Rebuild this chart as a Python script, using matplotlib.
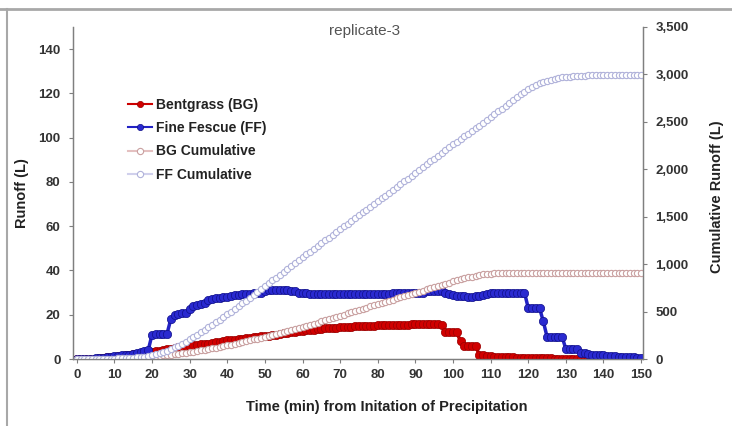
import matplotlib
matplotlib.use('Agg')

import matplotlib.pyplot as plt
from matplotlib.lines import Line2D
from matplotlib.ticker import FuncFormatter

plt.rcParams['font.family'] = ['Liberation Sans', 'DejaVu Sans']

# minute-by-minute runoff, replicate 3
minutes = list(range(0, 151))

# Bentgrass runoff rate (L)
bg_runoff = [
    0, 0, 0, 0, 0, 0.2, 0.4, 0.6, 0.8, 1.0,
    1.1, 1.3, 1.5, 1.7, 1.9, 2.1, 2.3, 2.5, 2.7, 2.9,
    3.2, 3.5, 3.8, 4.0, 4.3, 4.6, 4.9, 5.2, 5.5, 5.8,
    6.0, 6.2, 6.4, 6.6, 6.8, 7.0, 7.3, 7.6, 7.9, 8.2,
    8.4, 8.6, 8.8, 9.0, 9.2, 9.4, 9.6, 9.8, 10.0, 10.2,
    10.4, 10.6, 10.8, 11.0, 11.3, 11.6, 11.8, 12.0, 12.3, 12.5,
    12.7, 12.9, 13.1, 13.3, 13.5, 13.6, 13.8, 14.0, 14.1, 14.2,
    14.3, 14.4, 14.5, 14.6, 14.7, 14.8, 14.9, 15.0, 15.0, 15.1,
    15.2, 15.2, 15.3, 15.3, 15.4, 15.4, 15.5, 15.5, 15.5, 15.6,
    15.6, 15.6, 15.6, 15.7, 15.7, 15.7, 15.6, 15.5, 12, 12,
    12, 12, 8, 6, 6, 6, 6, 1.8, 1.6, 1.4,
    1.2, 1.0, 0.9, 0.8, 0.8, 0.7, 0.7, 0.6, 0.6, 0.5,
    0.5, 0.5, 0.4, 0.4, 0.3, 0.3, 0.3, 0.2, 0.2, 0.2,
    0.2, 0.1, 0.1, 0.1, 0.1, 0.1, 0.1, 0, 0, 0,
    0, 0, 0, 0, 0, 0, 0, 0, 0, 0, 0,
]

# Fine Fescue runoff rate (L)
ff_runoff = [
    0, 0, 0, 0, 0.2, 0.3, 0.5, 0.6, 0.8, 1.0,
    1.2, 1.4, 1.6, 1.8, 2.0, 2.3, 2.6, 3.0, 3.4, 4.0,
    11, 11.5, 11.5, 11.5, 11.5, 18, 20, 20.5, 21, 21,
    22.5, 24, 24.5, 25, 25.5, 26.5, 27, 27.5, 27.5, 28,
    28, 28.5, 29, 29, 29.5, 29.5, 29.5, 30, 30, 30,
    30.5, 31, 31, 31, 31, 31, 31, 30.5, 30.5, 30,
    30, 30, 29.5, 29.5, 29.5, 29.5, 29.5, 29.5, 29.5, 29.5,
    29.5, 29.5, 29.5, 29.5, 29.5, 29.5, 29.5, 29.5, 29.5, 29.5,
    29.5, 29.5, 29.5, 29.5, 30, 30, 30, 30, 30, 30,
    30, 30, 30, 30.5, 30.5, 30.5, 30.5, 30.5, 30, 29.5,
    29, 28.5, 28.5, 28.5, 28, 28, 28.5, 28.5, 29, 29.5,
    30, 30, 30, 30, 30, 30, 30, 30, 30, 30,
    23, 23, 23, 23, 17, 10, 10, 10, 10, 10,
    4.5, 4.5, 4.5, 4.5, 2.5, 2.5, 2.2, 2.0, 2.0, 1.8,
    1.6, 1.5, 1.4, 1.2, 1.1, 1.0, 0.9, 0.8, 0.7, 0.6, 0.5,
]

# cumulative runoff (L)
bg_cumulative = [
    0, 0, 0, 0, 0, 0.2, 0.6, 1.2, 2, 3,
    4, 5.3, 6.8, 8.5, 10.4, 12.5, 14.8, 17.3, 20, 23,
    26, 29.5, 33, 37, 41, 45.5, 50, 55, 60.5, 66,
    72, 78, 84.5, 91, 98, 105, 112, 119.5, 127, 135,
    143, 151.5, 160, 169, 178, 187, 196.5, 206, 215.5, 225,
    234.5, 244, 253.5, 263, 272.5, 282, 293, 304, 315, 326.5,
    338, 349.5, 361, 372.5, 384, 395.5, 407, 419, 431, 443,
    455.5, 468, 480.5, 493, 505.5, 518, 530, 542, 554, 566,
    578, 590, 602, 614, 626, 638, 650, 662, 674, 686,
    698, 710, 722, 734, 746, 758, 770, 782, 794, 806,
    818, 830, 841, 851, 860, 868, 876, 884, 891, 897,
    901, 903, 904, 905, 905.5, 906, 906.5, 907, 907, 907.5,
    907.5, 907.5, 907.5, 907.5, 907.5, 908, 908, 908, 908, 908,
    908, 908, 908, 908, 908, 908, 908, 908, 908, 908,
    908, 908, 908, 908, 908, 908, 908, 908, 908, 908, 908,
]

ff_cumulative = [
    0, 0, 0, 0, 0.2, 0.5, 1, 1.6, 2.4, 3.4,
    4.6, 6, 7.6, 9.4, 11.4, 13.7, 16.3, 19.3, 22.7, 26.7,
    37.7, 49.2, 60.7, 72.2, 83.7, 101.7, 121.7, 142.2, 163.2, 184.2,
    206.7, 230.7, 255.2, 280.2, 305.7, 332.2, 359.2, 386.7, 414.2, 442.2,
    470.2, 498.7, 527.7, 556.7, 586.2, 615.7, 645.2, 675.2, 705.2, 735.2,
    765.7, 796.7, 827.7, 858.7, 889.7, 920.7, 951.7, 982.2, 1012.7, 1042.7,
    1072.7, 1102.7, 1132.2, 1161.7, 1191.2, 1220.7, 1250.2, 1279.7, 1309.2, 1338.7,
    1368.2, 1397.7, 1427.2, 1456.7, 1486.2, 1515.7, 1545.2, 1574.7, 1604.2, 1633.7,
    1663.2, 1692.7, 1722.2, 1751.7, 1781.7, 1811.7, 1841.7, 1871.7, 1901.7, 1931.7,
    1961.7, 1991.7, 2021.7, 2052.2, 2082.7, 2113.2, 2143.7, 2174.2, 2204.2, 2233.7,
    2262.7, 2291.2, 2319.7, 2348.2, 2376.2, 2404.2, 2432.7, 2461.2, 2490.2, 2519.7,
    2549.7, 2579.7, 2609.7, 2639.7, 2669.7, 2699.7, 2729.7, 2759.7, 2789.7, 2819.7,
    2843, 2866, 2889, 2910, 2925, 2935, 2945, 2955, 2963, 2970,
    2974, 2978, 2981, 2984, 2986, 2988, 2989, 2990, 2991, 2992,
    2993, 2993, 2994, 2994, 2995, 2995, 2995, 2996, 2996, 2996, 2996,
]

x_ticks = list(range(0, 151, 10))
left_ticks = list(range(0, 141, 20))
right_ticks = list(range(0, 3501, 500))

W, H = 732, 426
fig = plt.figure(figsize=(W / 100, H / 100), dpi=100)
ax = fig.add_axes([73 / W, 1 - 359 / H, (643 - 73) / W, (359 - 27) / H])
ax2 = ax.twinx()

# rate series: dense filled markers that merge into a thick band
ax.plot(minutes, bg_runoff, color='#cc0000', lw=2.5, marker='o', ms=6,
        mfc='#d00000', mec='#990000', mew=0.5, label='Bentgrass (BG)', zorder=3)
ax.plot(minutes, ff_runoff, color='#2222c4', lw=2.5, marker='o', ms=6,
        mfc='#2a2ad0', mec='#10108a', mew=0.5, label='Fine Fescue (FF)', zorder=3)

# cumulative series: open markers on the right axis
ax2.plot(minutes, bg_cumulative, color='#e4c0c0', lw=1.2, marker='o', ms=4.5,
         mfc='white', mec='#c9a0a0', mew=0.8, label='BG Cumulative')
ax2.plot(minutes, ff_cumulative, color='#d0d0ec', lw=1.2, marker='o', ms=4.5,
         mfc='white', mec='#b0b2da', mew=0.8, label='FF Cumulative')

ax.set_xlim(-1, 150.5)
ax.set_ylim(0, 150)
ax2.set_ylim(0, 3500)
ax.set_xticks(x_ticks)
ax.set_yticks(left_ticks)
ax2.set_yticks(right_ticks)
ax2.yaxis.set_major_formatter(FuncFormatter(lambda v, p: f"{int(v):,}"))

for a in (ax, ax2):
    a.set_facecolor('none')
    a.spines['top'].set_visible(False)
    for s in ('left', 'right', 'bottom'):
        a.spines[s].set_color('#7f7f7f')
        a.spines[s].set_linewidth(0.9)
    a.tick_params(colors='#7f7f7f', labelcolor='#333333', length=3, width=0.8,
                  labelsize=9.5, direction='out')
    for lbl in a.get_xticklabels() + a.get_yticklabels():
        lbl.set_fontweight('bold')
ax.tick_params(axis='x', pad=4)
ax.tick_params(axis='y', pad=6)
ax2.tick_params(axis='y', pad=6)

ax.set_xlabel('Time (min) from Initation of Precipitation', fontsize=10.5,
              fontweight='bold', color='#222222')
ax.xaxis.set_label_coords((387 - 73) / 570, -0.125)
ax.set_ylabel('Runoff (L)', fontsize=10.5, fontweight='bold', color='#222222')
ax.yaxis.set_label_coords(-0.078, 0.5)
ax2.set_ylabel('Cumulative Runoff (L)', fontsize=10.5, fontweight='bold', color='#222222')
ax2.yaxis.set_label_coords(1.118, 0.49)

fig.text(365 / W, 1 - 31 / H, 'replicate-3', ha='center', va='center',
         fontsize=11, color='#555555')

h1, l1 = ax.get_legend_handles_labels()
h2, l2 = ax2.get_legend_handles_labels()
leg = ax2.legend(h1 + h2, l1 + l2, loc='upper left', bbox_to_anchor=(0.075, 0.825),
                 frameon=False, handlelength=1.7, handletextpad=0.3,
                 labelspacing=0.68, prop={'size': 10, 'weight': 'bold'})
for t in leg.get_texts():
    t.set_color('#222222')
for h in leg.legend_handles:
    h.set_markersize(4.5)
    h.set_linewidth(1.5)

# border lines around the chart area
fig.add_artist(Line2D([0, 1], [1 - 9 / H, 1 - 9 / H], color='#a8a8a8', lw=2))
fig.add_artist(Line2D([7 / W, 7 / W], [0, 1 - 9 / H], color='#a8a8a8', lw=1.5))

fig.savefig('out.png', dpi=100, facecolor='white')
